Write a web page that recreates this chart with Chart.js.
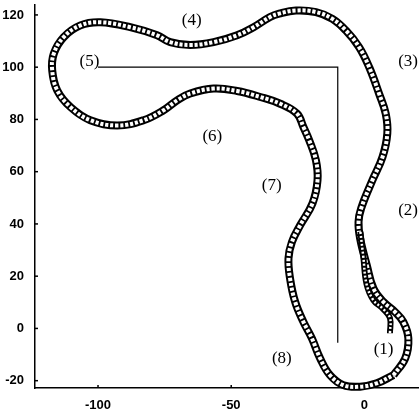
<!DOCTYPE html>
<html>
<head>
<meta charset="utf-8">
<script src="https://cdn.jsdelivr.net/npm/chart.js@4/dist/chart.umd.min.js"></script>
<style>
html,body{margin:0;padding:0;background:#fff;}
#wrap{width:419px;height:409px;position:relative;}
</style>
</head>
<body>
<div id="wrap"><canvas id="c" width="419" height="409"></canvas></div>
<script>
// Main closed track
const trackX = [10.9,15.3,16.5,14.6,11.5,7.1,3.4,0.9,-1.6,-2.2,-1.2,3,6.8,8.6,8,5.5,1.8,-2,-7,-12,-18.2,-25.7,-32,-35.4,-41.6,-47.8,-56.6,-65.4,-72.9,-77.8,-87.9,-99.1,-106.6,-112.9,-116.6,-117.2,-115.3,-110.3,-102.9,-92.8,-82.9,-75.4,-70.3,-65.4,-56.6,-47.8,-39.1,-31.6,-25.3,-22.9,-20.7,-18.2,-17.6,-19.5,-24.1,-27.2,-28.5,-27.9,-26,-22.9,-19.7,-16.6,-12.9,-7.9,-1.6,4.6,10.9];
const trackY = [-17.9,-11.5,-3.8,2.5,6.3,10.2,15.3,24.2,34.4,40.8,46,56.7,65.6,74.6,82.2,89.9,100,107.7,114.1,118.5,121.1,121.7,120.5,119.2,115.3,112.2,109.6,108.5,109.6,112.2,115.3,117.2,116,111.5,105.2,98.8,91.1,84.7,79.7,77.7,79.7,83.5,87.3,89.9,91.8,90.9,88.6,86,82.2,77.1,72,64.4,56.7,47.8,39.5,33.1,26.8,19.1,10.2,2.5,-3.8,-11.5,-17.9,-21.7,-22.3,-21,-17.9];
// Starting stub (inner strand)
const stubX = [9.6,9.6,7,3.4,0.8,-0.4,-1.5];
const stubY = [-1.8,4,7.5,10.8,17,27.4,37];
// Reference L-shaped line
const refX = [-100,-10,-10];
const refY = [100,100,-5.5];
// Section labels
const labelText = ["(1)","(2)","(3)","(4)","(5)","(6)","(7)","(8)"];
const labelX = [7.2,16.4,16.4,-64.8,-103.2,-57.1,-34.8,-31];
const labelY = [-8,45.2,102.2,117.7,102.2,73.5,54.8,-11.5];
// Ticks
const xTicks = [-100,-50,0];
const yTicks = [-20,0,20,40,60,80,100,120];

const zip = (xs, ys) => xs.map((x,i)=>({x:x, y:ys[i]}));
const track = zip(trackX, trackY);
const stub = zip(stubX, stubY);
const ref = zip(refX, refY);

const labelPlugin = {
  id:'labels',
  afterDatasetsDraw(chart){
    const ctx = chart.ctx, xs = chart.scales.x, ys = chart.scales.y;
    ctx.save();
    ctx.fillStyle = '#000';
    ctx.font = '17px "Liberation Serif", "DejaVu Serif", serif';
    ctx.textAlign = 'center';
    ctx.textBaseline = 'middle';
    labelText.forEach((t,i)=>{
      ctx.fillText(t, xs.getPixelForValue(labelX[i]), ys.getPixelForValue(labelY[i]));
    });
    // inward tick marks
    ctx.strokeStyle = '#000';
    ctx.lineWidth = 1.5;
    const ca = chart.chartArea;
    xTicks.forEach(v=>{
      const p = xs.getPixelForValue(v);
      ctx.beginPath(); ctx.moveTo(p, ca.bottom); ctx.lineTo(p, ca.bottom-3); ctx.stroke();
    });
    yTicks.forEach(v=>{
      const p = ys.getPixelForValue(v);
      ctx.beginPath(); ctx.moveTo(ca.left, p); ctx.lineTo(ca.left+3, p); ctx.stroke();
    });
    ctx.restore();
  }
};

new Chart(document.getElementById('c'), {
  type:'scatter',
  data:{
    datasets:[
      {data:ref, showLine:true, borderColor:'#000', borderWidth:1.2, pointRadius:0, tension:0, order:5, clip:false},
      {data:track, showLine:true, borderColor:'#000', borderWidth:8, pointRadius:0, tension:0.4, order:4, clip:false},
      {data:track, showLine:true, borderColor:'#fff', borderWidth:4, borderDash:[3.2,1.8], pointRadius:0, tension:0.4, order:3, clip:false},
      {data:stub, showLine:true, borderColor:'#000', borderWidth:6, pointRadius:0, tension:0.4, order:2, clip:false},
      {data:stub, showLine:true, borderColor:'#fff', borderWidth:2.5, borderDash:[2,2], pointRadius:0, tension:0.4, order:1, clip:false}
    ]
  },
  options:{
    responsive:false,
    animation:false,
    devicePixelRatio:1,
    layout:{padding:{top:5,right:0,left:0,bottom:0}},
    plugins:{legend:{display:false}, tooltip:{enabled:false}},
    scales:{
      x:{
        type:'linear', min:-123.66, max:20.5,
        grid:{display:false},
        border:{display:true, color:'#000', width:1.5},
        afterBuildTicks(s){ s.ticks = xTicks.map(v=>({value:v})); },
        afterFit(s){ s.height = 21; s.paddingLeft = 0; s.paddingRight = 0; },
        ticks:{color:'#000', padding:2, maxRotation:0, font:{family:'"Liberation Sans", Arial, sans-serif', size:13, weight:'bold'}}
      },
      y:{
        type:'linear', min:-22.8, max:123.8,
        grid:{display:false},
        border:{display:true, color:'#000', width:1.5},
        afterBuildTicks(s){ s.ticks = yTicks.map(v=>({value:v})); },
        afterFit(s){ s.width = 35; s.paddingTop = 0; s.paddingBottom = 0; },
        ticks:{color:'#000', padding:3, font:{family:'"Liberation Sans", Arial, sans-serif', size:13, weight:'bold'}}
      }
    }
  },
  plugins:[labelPlugin]
});
</script>
</body>
</html>
